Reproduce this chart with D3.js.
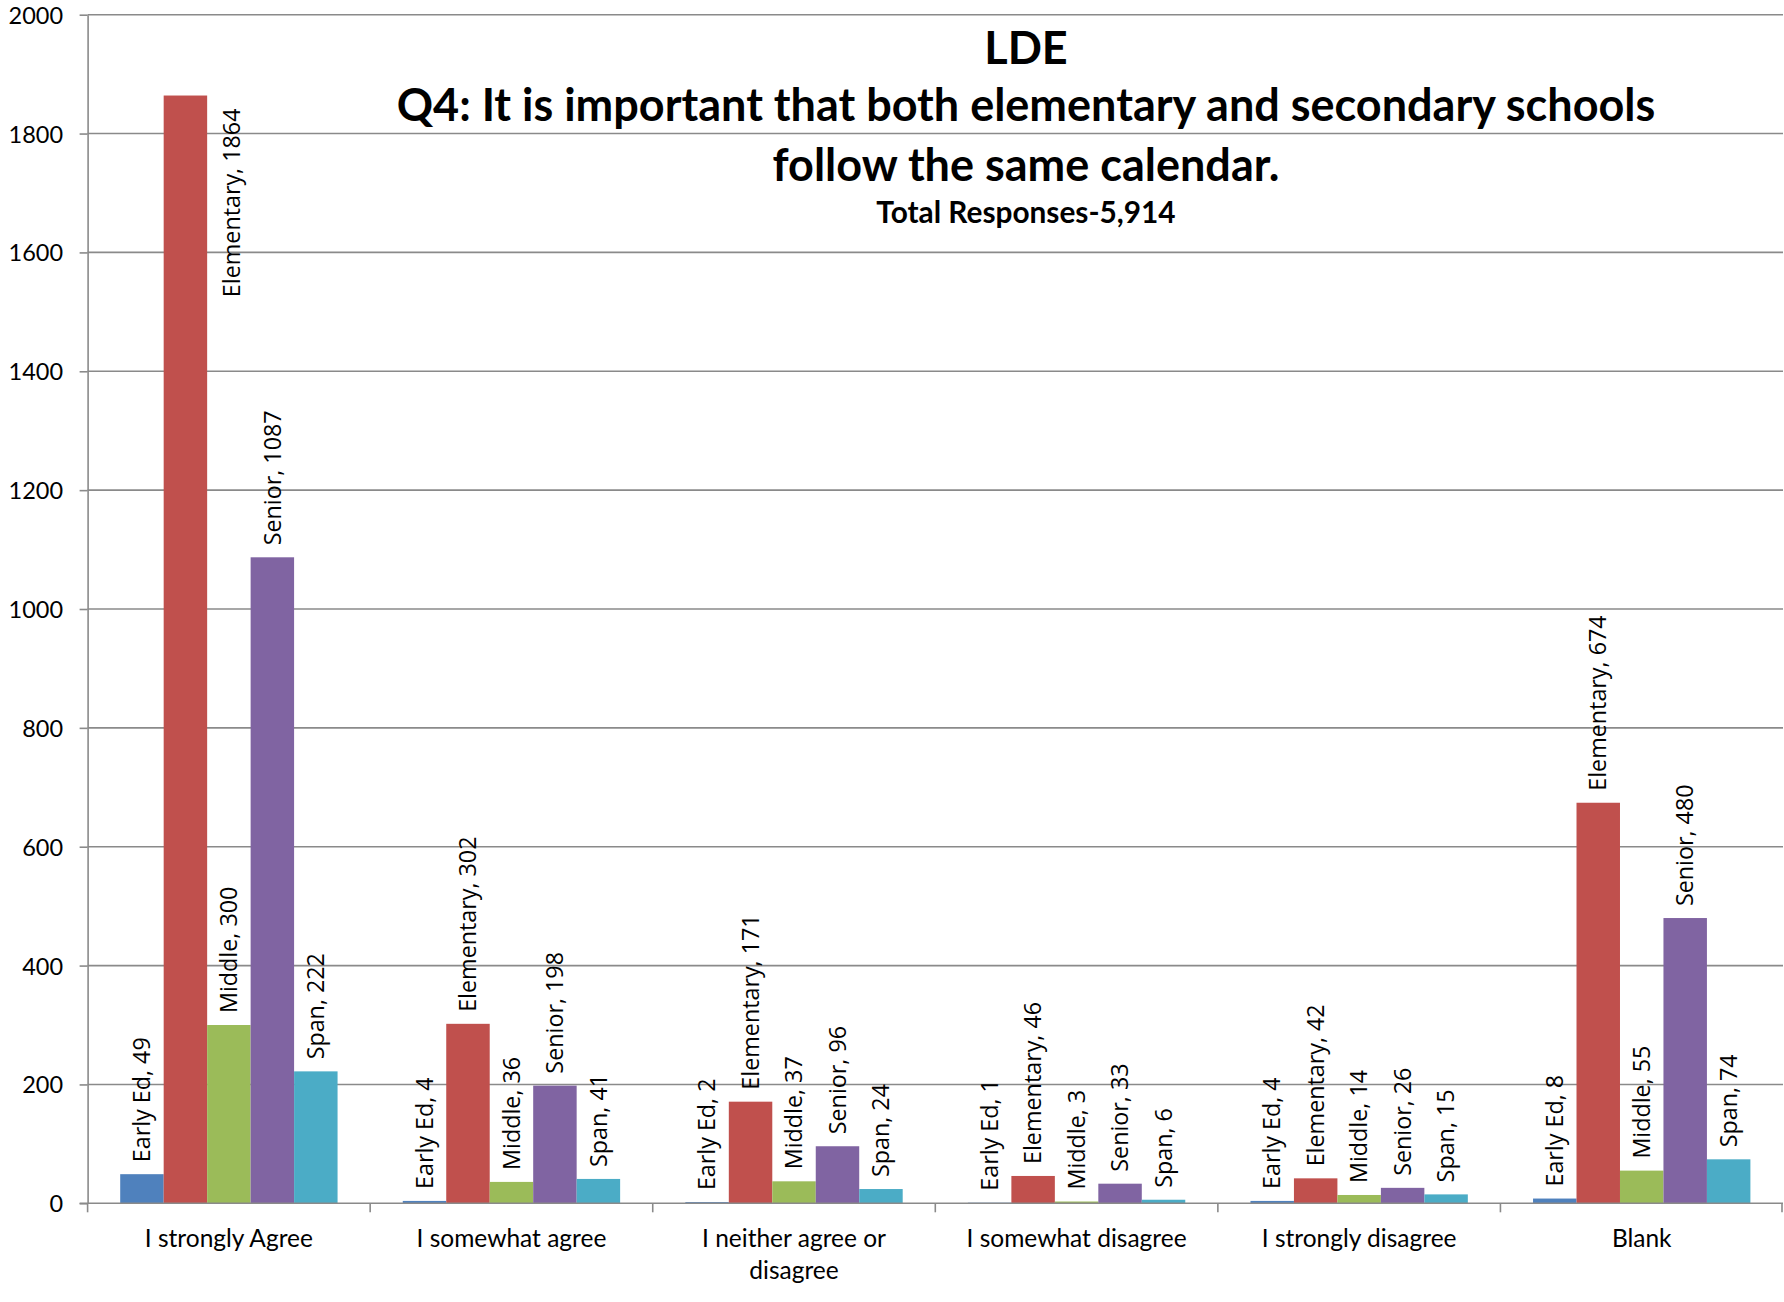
<!DOCTYPE html>
<html>
<head>
<meta charset="utf-8">
<script src="https://cdn.jsdelivr.net/npm/d3@7"></script>
<style>
  html, body { margin: 0; padding: 0; background: #ffffff; }
  svg { display: block; }
</style>
</head>
<body>
<script>
// ---------------- data ----------------
const categories = [
  "I strongly Agree",
  "I somewhat agree",
  "I neither agree or disagree",
  "I somewhat disagree",
  "I strongly disagree",
  "Blank"
];
const seriesNames = ["Early Ed", "Elementary", "Middle", "Senior", "Span"];
const earlyEd    = [49, 4, 2, 1, 4, 8];
const elementary = [1864, 302, 171, 46, 42, 674];
const middle     = [300, 36, 37, 3, 14, 55];
const senior     = [1087, 198, 96, 33, 26, 480];
const span       = [222, 41, 24, 6, 15, 74];
const yTicks = [0, 200, 400, 600, 800, 1000, 1200, 1400, 1600, 1800, 2000];
const titleLines = [
  "LDE",
  "Q4: It is important that both elementary and secondary schools",
  "follow the same calendar."
];
const subtitle = "Total Responses-5,914";
const seriesColors = ["#4F81BD", "#C0504D", "#9BBB59", "#8064A2", "#4BACC6"];

// ---------------- layout ----------------
const W = 1784, H = 1302;
const plot = { left: 87.6, right: 1783, top: 14.7, bottom: 1203.3 };
const gridColor = "#8a8a8a";

const seriesValues = [earlyEd, elementary, middle, senior, span];
const rows = [];
categories.forEach((c, ci) => {
  seriesNames.forEach((s, si) => {
    rows.push({ cat: c, series: s, si: si, value: seriesValues[si][ci] });
  });
});

const svg = d3.select("body").append("svg")
  .attr("width", W).attr("height", H)
  .attr("viewBox", `0 0 ${W} ${H}`);

svg.append("rect").attr("width", W).attr("height", H).attr("fill", "#ffffff");

const x0 = d3.scaleBand().domain(categories)
  .range([plot.left, plot.right]).paddingInner(0).paddingOuter(0);
const x1 = d3.scaleBand().domain(seriesNames)
  .range([0, x0.bandwidth()]).paddingInner(0).paddingOuter(0.75);
const y = d3.scaleLinear().domain([0, 2000]).range([plot.bottom, plot.top]);
const color = d3.scaleOrdinal().domain(seriesNames).range(seriesColors);

// gridlines
svg.append("g").attr("class", "grid")
  .selectAll("line").data(yTicks.filter(t => t > 0)).join("line")
  .attr("x1", plot.left).attr("x2", plot.right)
  .attr("y1", d => y(d)).attr("y2", d => y(d))
  .attr("stroke", gridColor).attr("stroke-width", 1.6);

// bars
svg.append("g").attr("class", "bars")
  .selectAll("rect").data(rows).join("rect")
  .attr("x", d => x0(d.cat) + x1(d.series))
  .attr("y", d => y(d.value))
  .attr("width", x1.bandwidth())
  .attr("height", d => y(0) - y(d.value))
  .attr("fill", d => color(d.series));

// y axis
const yAxis = svg.append("g")
  .attr("transform", `translate(${plot.left},0)`)
  .call(d3.axisLeft(y).tickValues(yTicks).tickFormat(d3.format("d"))
    .tickSizeInner(8).tickSizeOuter(0).tickPadding(16.5));
yAxis.select(".domain").attr("stroke", gridColor).attr("stroke-width", 1.6);
yAxis.selectAll(".tick line").attr("stroke", gridColor).attr("stroke-width", 1.6);
yAxis.selectAll(".tick text")
  .attr("font-family", "Lato, 'Open Sans', sans-serif")
  .attr("font-size", 23.5).attr("fill", "#000").attr("dy", "0.36em");

// x axis baseline and category boundary ticks
const xAxisG = svg.append("g").attr("transform", `translate(0,${plot.bottom})`);
xAxisG.append("line")
  .attr("x1", plot.left - 8).attr("x2", plot.right)
  .attr("y1", 0).attr("y2", 0)
  .attr("stroke", gridColor).attr("stroke-width", 1.6);
const boundaries = categories.map(c => x0(c)).concat([plot.right - 1]);
xAxisG.selectAll("line.bt").data(boundaries).join("line")
  .attr("class", "bt")
  .attr("x1", d => d).attr("x2", d => d)
  .attr("y1", 0).attr("y2", 9)
  .attr("stroke", gridColor).attr("stroke-width", 1.6);

// category labels via axis
const xLab = svg.append("g").attr("transform", `translate(0,${plot.bottom})`)
  .call(d3.axisBottom(x0).tickSize(0).tickPadding(0));
xLab.select(".domain").remove();
xLab.selectAll(".tick text")
  .attr("font-family", "Lato, 'Open Sans', sans-serif")
  .attr("font-size", 24.5).attr("fill", "#000")
  .call(wrap, 255, 32, 43.4);

function wrap(texts, width, lineH, firstBaseline) {
  texts.each(function() {
    const t = d3.select(this);
    const words = t.text().split(/\s+/);
    t.text(null).attr("dy", null).attr("y", null);
    let line = [];
    let tspan = t.append("tspan").attr("x", 0);
    const lines = [tspan];
    words.forEach(w => {
      line.push(w);
      tspan.text(line.join(" "));
      if (tspan.node().getComputedTextLength() > width && line.length > 1) {
        line.pop();
        tspan.text(line.join(" "));
        line = [w];
        tspan = t.append("tspan").attr("x", 0).text(w);
        lines.push(tspan);
      }
    });
    lines.forEach((ts, i) => ts.attr("y", firstBaseline + i * lineH));
  });
}

// data labels
const gap = 12;
const labG = svg.append("g").attr("class", "labels");
rows.forEach(d => {
  const cx = x0(d.cat) + x1(d.series) + x1.bandwidth() / 2;
  const top = y(d.value);
  const t = labG.append("text")
    .attr("font-family", "'Open Sans', sans-serif")
    .attr("font-size", 23.3).attr("fill", "#000")
    .attr("dy", "0.35em")
    .attr("text-anchor", "start")
    .attr("transform", `translate(${cx},${top - gap}) rotate(-90)`)
    .text(`${d.series}, ${d.value}`);
  const len = t.node().getComputedTextLength();
  if (top - gap - len < plot.top) {
    t.attr("text-anchor", "end")
      .attr("transform", `translate(${cx + x1.bandwidth() + 2.6},${top + 13}) rotate(-90)`);
  }
});

// title
const titleX = 1026;
const titleBaselines = [64, 121, 181];
svg.append("g").selectAll("text").data(titleLines).join("text")
  .attr("x", titleX).attr("y", (d, i) => titleBaselines[i])
  .attr("text-anchor", "middle")
  .attr("font-family", "Lato, sans-serif").attr("font-weight", 700)
  .attr("font-size", 45).attr("fill", "#000")
  .text(d => d);
svg.append("text")
  .attr("x", titleX).attr("y", 223)
  .attr("text-anchor", "middle")
  .attr("font-family", "Lato, sans-serif").attr("font-weight", 700)
  .attr("font-size", 29.8).attr("fill", "#000")
  .text(subtitle);
</script>
</body>
</html>
